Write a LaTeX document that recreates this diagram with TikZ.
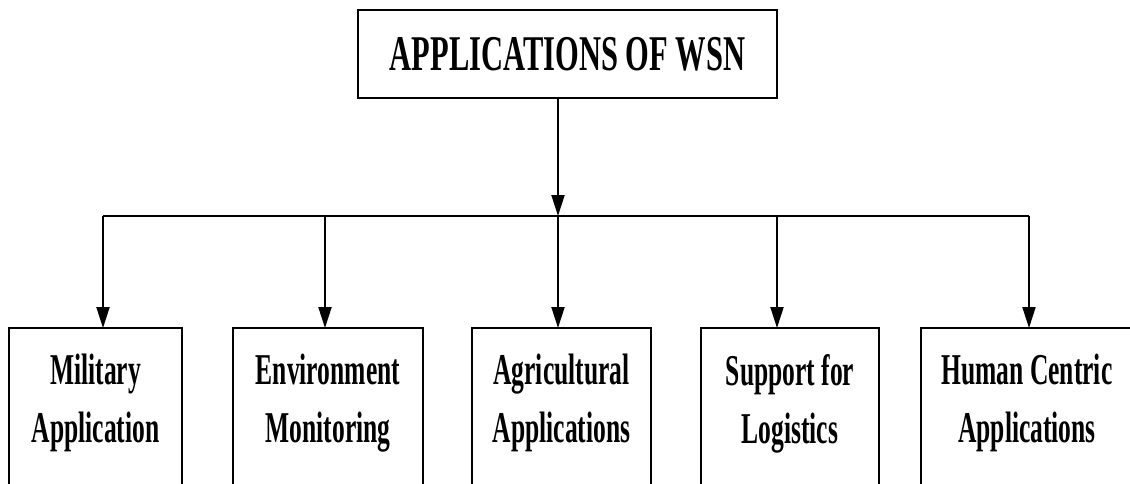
\documentclass[tikz,border=0pt]{standalone}
\usepackage{fontspec}
\setmainfont{Liberation Serif}
\newfontfamily\titlefont[FakeStretch=0.61]{Liberation Serif}
\newfontfamily\appfont[FakeStretch=0.58]{Liberation Serif}
\usetikzlibrary{arrows.meta,positioning}
\tikzset{
  rootbox/.style={draw, line width=2.4pt, outer sep=0pt, inner sep=0pt, minimum width=419pt, minimum height=88pt, font=\titlefont\bfseries\fontsize{50}{60}\selectfont},
  appbox/.style={draw, line width=2.4pt, outer sep=0pt, inner sep=0pt, anchor=north, minimum height=220pt},
  applabel/.style={anchor=north, align=center, inner sep=0pt, yshift=-26pt, font=\appfont\bfseries\fontsize{44}{58}\selectfont},
  feed/.style={line width=2pt, -{Triangle[length=21pt,width=13pt]}},
  busline/.style={line width=2.4pt}
}
\begin{document}
\begin{tikzpicture}[x=1pt, y=-1pt]
        \useasboundingbox (0,0) rectangle (1130,483);
        \clip (0,0) rectangle (1130,483);
        \node[rootbox] (root) at (567.5,54) {APPLICATIONS OF WSN};
        \node[appbox, minimum width=173pt, label={[applabel]north:{Military\\Application}}] (mil) at (95.5,328) {};
        \node[appbox, minimum width=190pt, label={[applabel]north:{Environment\\Monitoring}}] (env) at (328,328) {};
        \node[appbox, minimum width=179pt, label={[applabel]north:{Agricultural\\Applications}}] (agr) at (561.5,328) {};
        \node[appbox, minimum width=178pt, label={[applabel]north:{Support for\\Logistics}}] (sup) at (790,328) {};
        \node[appbox, minimum width=212pt, label={[applabel]north:{Human Centric\\Applications}}] (hum) at (1027,328) {};
        \foreach \n/\x in {mil/103,env/325,agr/558,sup/777,hum/1029}
          \coordinate (b\n) at (\x,216);
        \draw[busline] (bmil) -- (bhum);
        \draw[feed] (bagr |- root.south) -- (bagr);
        \foreach \n in {mil,env,agr,sup,hum}
          \draw[feed] (b\n) -- (b\n |- \n.north);
\end{tikzpicture}
\end{document}
